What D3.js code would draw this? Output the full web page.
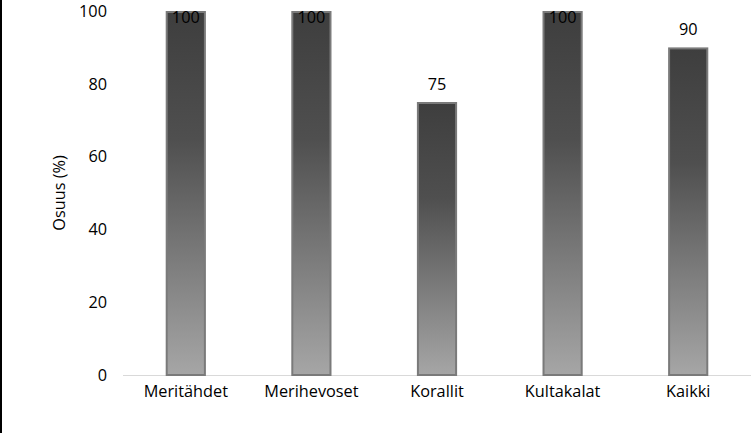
<!DOCTYPE html>
<html>
<head>
<meta charset="utf-8">
<script src="https://cdn.jsdelivr.net/npm/d3@7"></script>
<style>
html,body{margin:0;padding:0;background:#fff;}
svg{display:block;}
text{font-family:"Open Sans",Lato,sans-serif;fill:#000;}
</style>
</head>
<body>
<svg id="chart" width="751" height="433"></svg>
<script>
const categories = ["Meritähdet", "Merihevoset", "Korallit", "Kultakalat", "Kaikki"];
const values = [100, 100, 75, 100, 90];
const yTicks = [0, 20, 40, 60, 80, 100];
const yTitle = "Osuus (%)";

const W = 751, H = 433;
const FS = "16.3px";
const FF = "'Open Sans', Lato, sans-serif";
const svg = d3.select("#chart");
const margin = {left: 123, right: 0, top: 11, bottom: 58};

svg.append("rect").attr("x", 0).attr("y", 0).attr("width", W).attr("height", H).attr("fill", "#fff");
svg.append("rect").attr("x", 0).attr("y", 0).attr("width", 2).attr("height", H).attr("fill", "#000");

const x = d3.scaleBand().domain(categories).range([margin.left, W - margin.right]).paddingInner(0.68).paddingOuter(0.34);
const y = d3.scaleLinear().domain([0, 100]).range([H - margin.bottom, margin.top]);

const defs = svg.append("defs");
const grad = defs.append("linearGradient").attr("id", "barGrad").attr("x1", 0).attr("y1", 0).attr("x2", 0).attr("y2", 1);
grad.append("stop").attr("offset", "0%").attr("stop-color", "#3e3e3e");
grad.append("stop").attr("offset", "35%").attr("stop-color", "#4f4f4f");
grad.append("stop").attr("offset", "100%").attr("stop-color", "#a6a6a6");

// baseline
svg.append("line")
  .attr("x1", margin.left).attr("x2", W)
  .attr("y1", y(0) + 0.5).attr("y2", y(0) + 0.5)
  .attr("stroke", "#d9d9d9").attr("stroke-width", 1);

// y axis ticks (labels only)
const yAxis = d3.axisLeft(y).tickValues(yTicks).tickSize(0).tickPadding(0);
const gy = svg.append("g").attr("transform", `translate(${107},0)`).call(yAxis);
gy.select(".domain").remove();
gy.selectAll("text").style("font-size", FS).style("font-family", FF).attr("fill", "#000");

// bars
svg.selectAll("rect.bar").data(values).enter().append("rect")
  .attr("class", "bar")
  .attr("x", (d, i) => x(categories[i]) + 1)
  .attr("y", d => y(d) + 1)
  .attr("width", x.bandwidth() - 2)
  .attr("height", d => y(0) - y(d) - 1)
  .attr("fill", "url(#barGrad)")
  .attr("stroke", "#7a7a7a").attr("stroke-width", 2);

// value labels
svg.selectAll("text.val").data(values).enter().append("text")
  .attr("class", "val")
  .attr("x", (d, i) => x(categories[i]) + x.bandwidth() / 2)
  .attr("y", d => Math.max(y(d) - 12, 23))
  .attr("text-anchor", "middle")
  .style("font-size", FS)
  .text(d => d);

// x axis
const xAxis = d3.axisBottom(x).tickSize(0).tickPadding(0);
const gx = svg.append("g").attr("transform", `translate(0,${y(0) + 10})`).call(xAxis);
gx.select(".domain").remove();
gx.selectAll("text").style("font-size", FS).style("font-family", FF).attr("fill", "#000");

// y title
svg.append("text")
  .attr("transform", `translate(65,${(y(0) + y(100)) / 2}) rotate(-90)`)
  .attr("text-anchor", "middle")
  .style("font-size", FS)
  .text(yTitle);
</script>
</body>
</html>
